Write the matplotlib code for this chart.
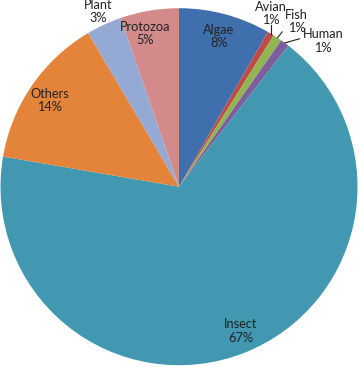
import numpy as np
import matplotlib.pyplot as plt

# slice data, clockwise from 12 o'clock
categories = ["Algae", "Avian", "Fish", "Human", "Insect", "Others", "Plant", "Protozoa"]
shares = [8.3, 0.6, 0.8, 0.8, 67.2, 13.8, 3.2, 5.3]
colors = ["#406FAD", "#BE4B48", "#93B550", "#7D5F9E", "#4298B0", "#E3843A", "#94AAD5", "#D28B8A"]

# labels inside the slices: (radial distance, angle nudge in degrees, clockwise)
inside = {"Algae": (0.87, 0), "Insect": (0.88, -2), "Others": (0.87, -1), "Protozoa": (0.88, -3)}
# labels outside the pie: text offset in pixels from the slice edge, leader anchor on text
outside = {"Avian": ((0, 20), None), "Fish": ((19, 16), (0.05, 0.3)),
           "Human": ((38, 2), (0.0, 0.62)), "Plant": ((-6, 13), None)}

plt.rcParams["font.family"] = ["Lato", "DejaVu Sans"]
fig = plt.figure(figsize=(3.59, 3.67), dpi=100)
R = 178.5
ax = fig.add_axes([(179 - R) / 359, (367 - 186.7 - R) / 367, 2 * R / 359, 2 * R / 367])

wedges, _ = ax.pie(shares, colors=colors, startangle=90, counterclock=False,
                   wedgeprops=dict(linewidth=0))
ax.set_xlim(-1, 1)
ax.set_ylim(-1, 1)
ax.axis("off")

txt = dict(fontsize=9.2, color="#222222", linespacing=1.12, ha="center", va="center")
total = sum(shares)
for w, name, val in zip(wedges, categories, shares):
    mid = (w.theta1 + w.theta2) / 2
    label = f"{name}\n{round(val / total * 100):.0f}%"
    if name in inside:
        d, nudge = inside[name]
        a = np.deg2rad(mid - nudge)
        ax.text(d * np.cos(a), d * np.sin(a), label, **txt)
    else:
        off, rel = outside[name]
        a = np.deg2rad(mid)
        arrow = None
        if rel is not None:
            arrow = dict(arrowstyle="-", color="#222222", lw=0.8, relpos=rel,
                         shrinkA=0, shrinkB=0)
        ax.annotate(label, xy=(np.cos(a), np.sin(a)), xytext=off,
                    textcoords="offset pixels", annotation_clip=False,
                    arrowprops=arrow, **txt)

# Avian has a short vertical leader under its label
a = np.deg2rad((wedges[1].theta1 + wedges[1].theta2) / 2)
ax.plot([np.cos(a), np.cos(a)], [np.sin(a), np.sin(a) + 0.05], color="#222222", lw=0.8,
        clip_on=False)

fig.savefig("out.png", dpi=100)
